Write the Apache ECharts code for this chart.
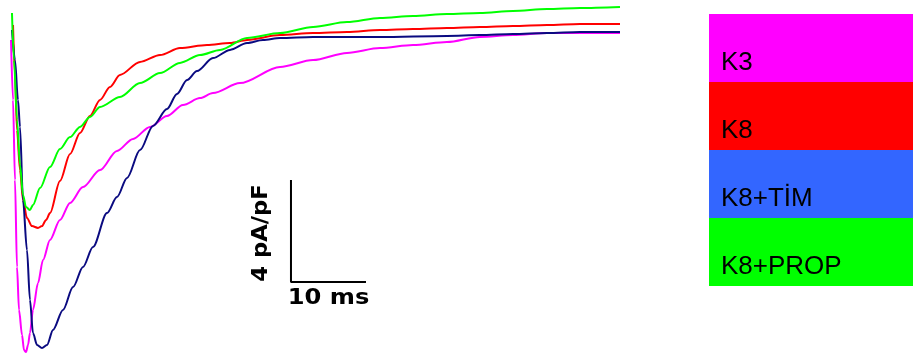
<!DOCTYPE html>
<html>
<head>
<meta charset="utf-8">
<script src="https://cdn.jsdelivr.net/npm/echarts@6/dist/echarts.min.js"></script>
<style>html,body{margin:0;padding:0;background:#fff;}#c{width:913px;height:355px;}</style>
</head>
<body>
<div id="c"></div>
<script>
// time (ms) vs current density (pA/pF)
const seriesNames = ['K3', 'K8', 'K8+TİM', 'K8+PROP'];
const k3 = [[0,-1.41],[0.27,-3.76],[0.53,-6.9],[0.8,-10.31],[1.07,-12.0],[1.47,-12.98],[1.73,-13.57],[2.0,-13.65],[2.27,-13.37],[2.53,-12.9],[2.93,-12.0],[3.6,-10.94],[4.27,-10.04],[5.2,-9.25],[6.53,-8.47],[7.87,-7.8],[9.6,-7.18],[11.87,-6.51],[14.13,-5.76],[16.27,-5.29],[18.53,-4.82],[20.8,-4.39],[22.93,-3.96],[25.2,-3.69],[26.93,-3.49],[30.53,-3.1],[35.87,-2.47],[40.27,-2.2],[44.8,-1.92],[49.2,-1.73],[53.6,-1.61],[58.13,-1.49],[62.53,-1.29],[66.93,-1.22],[71.47,-1.14],[75.87,-1.14],[81.2,-1.14]];
const k8 = [[0.27,-0.82],[0.53,-2.78],[0.8,-4.94],[1.2,-6.51],[1.6,-7.69],[2.13,-8.39],[2.8,-8.71],[3.6,-8.78],[4.13,-8.71],[4.67,-8.47],[5.2,-8.2],[6.53,-6.94],[7.87,-5.88],[9.2,-5.06],[10.53,-4.39],[11.87,-3.76],[13.2,-3.25],[14.53,-2.78],[17.2,-2.27],[19.87,-2.0],[22.53,-1.73],[26.13,-1.61],[29.2,-1.53],[31.47,-1.41],[35.87,-1.22],[40.27,-1.14],[44.8,-1.1],[49.2,-1.02],[53.6,-0.98],[58.13,-0.94],[62.53,-0.9],[66.93,-0.86],[71.47,-0.82],[75.87,-0.78],[81.2,-0.78]];
const k8tim = [[0.13,-1.02],[0.53,-2.2],[0.93,-3.76],[1.2,-4.82],[1.6,-7.69],[2.13,-9.65],[2.53,-11.61],[2.93,-12.9],[3.47,-13.37],[4.13,-13.49],[4.8,-13.37],[5.6,-12.78],[6.93,-12.0],[8.27,-11.1],[9.6,-10.31],[10.93,-9.53],[12.8,-8.2],[14.13,-7.57],[15.47,-6.82],[17.2,-5.73],[18.93,-4.78],[20.8,-4.12],[22.13,-3.53],[23.47,-2.98],[24.8,-2.63],[26.93,-2.12],[29.2,-1.8],[31.47,-1.53],[33.6,-1.41],[35.87,-1.33],[40.27,-1.29],[49.2,-1.29],[58.13,-1.25],[62.53,-1.22],[66.93,-1.18],[71.47,-1.14],[75.87,-1.1],[81.2,-1.1]];
const k8prop = [[0.13,-0.35],[0.4,-2.2],[0.8,-4.55],[1.2,-6.31],[1.6,-7.49],[2.0,-7.96],[2.53,-8.08],[2.93,-7.88],[3.87,-7.22],[5.2,-6.39],[6.53,-5.69],[7.87,-5.22],[9.2,-4.82],[10.53,-4.43],[11.87,-4.04],[14.53,-3.65],[17.2,-3.1],[19.87,-2.71],[22.53,-2.31],[25.2,-2.0],[27.87,-1.8],[31.47,-1.33],[35.87,-1.14],[40.27,-0.9],[44.8,-0.71],[49.2,-0.55],[53.6,-0.47],[58.13,-0.39],[62.53,-0.35],[66.93,-0.27],[71.47,-0.2],[75.87,-0.16],[81.2,-0.12]];
// scale bar: 10 ms horizontal, 4 pA/pF vertical
const scaleOrigin = [37.33, -10.9];
const scaleTime = 10;
const scaleCurrent = 4;
const scaleLabels = ['10 ms', '4 pA/pF'];

const lineColors = ['#ff00ff', '#ff0000', '#0a0a80', '#00ff00'];
const boxColors = ['#ff00ff', '#ff0000', '#3366ff', '#00ff00'];
const datasets = [k3, k8, k8tim, k8prop];

const chart = echarts.init(document.getElementById('c'), null, {renderer: 'canvas'});
const series = datasets.map((d, i) => ({
  name: seriesNames[i], type: 'line', data: d, showSymbol: false, symbol: 'none',
  smooth: 0.3, smoothMonotone: 'x',
  lineStyle: {color: lineColors[i], width: 2}, itemStyle: {color: lineColors[i]},
  clip: false, z: 2 + i
}));
series.push({
  type: 'line', showSymbol: false, symbol: 'none', clip: false, z: 10,
  data: [[scaleOrigin[0], scaleOrigin[1] + scaleCurrent], scaleOrigin, [scaleOrigin[0] + scaleTime, scaleOrigin[1]]],
  lineStyle: {color: '#000', width: 2}
});

const boxTop = 14, boxH = 68, boxX = 709, boxW = 204;
const graphics = [];
seriesNames.forEach((n, i) => {
  graphics.push({type: 'rect', left: boxX, top: boxTop + i * boxH, shape: {width: boxW, height: boxH}, style: {fill: boxColors[i]}, z: 1});
  graphics.push({type: 'text', x: 721, y: boxTop + (i + 1) * boxH - 6, style: {text: n, fill: '#000', font: '26px "Liberation Sans", Arial, sans-serif', textVerticalAlign: 'bottom', textAlign: 'left'}, z: 2});
});

chart.setOption({
  animation: false,
  backgroundColor: '#fff',
  grid: {left: 11, right: 291, top: 4, bottom: 0},
  xAxis: {type: 'value', min: 0, max: 611 / 7.5, show: false},
  yAxis: {type: 'value', min: -351 / 25.5, max: 0, show: false},
  series: series,
  graphic: graphics
});

const pO = chart.convertToPixel({gridIndex: 0}, scaleOrigin);
const pTop = chart.convertToPixel({gridIndex: 0}, [scaleOrigin[0], scaleOrigin[1] + scaleCurrent]);
const pRight = chart.convertToPixel({gridIndex: 0}, [scaleOrigin[0] + scaleTime, scaleOrigin[1]]);
graphics.push({type: 'text', x: (pO[0] + pRight[0]) / 2, y: pO[1] + 17, scaleX: 1.15,
  style: {text: scaleLabels[0], fill: '#000', font: 'bold 21px "DejaVu Sans", sans-serif', textAlign: 'center', textVerticalAlign: 'middle'}, z: 20});
graphics.push({type: 'text', x: pO[0] - 29, y: (pO[1] + pTop[1]) / 2 + 2, rotation: Math.PI / 2, scaleX: 1.08,
  style: {text: scaleLabels[1], fill: '#000', font: 'bold 21px "DejaVu Sans", sans-serif', textAlign: 'center', textVerticalAlign: 'middle'}, z: 20});
chart.setOption({graphic: graphics});
</script>
</body>
</html>
